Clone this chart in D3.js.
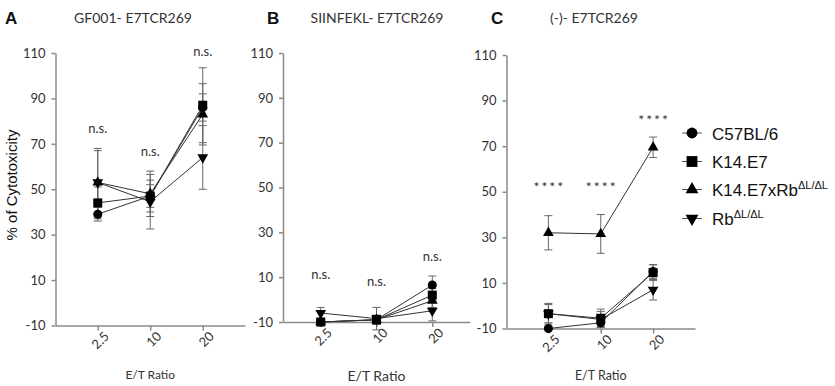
<!DOCTYPE html>
<html>
<head>
<meta charset="utf-8">
<script src="https://cdnjs.cloudflare.com/ajax/libs/d3/7.8.5/d3.min.js"></script>
<style>
  body { margin: 0; background: #fff; }
  svg { display: block; }
  .lbl { font-family: Lato, "Open Sans", sans-serif; fill: #333; }
  .arial { font-family: "Liberation Sans", Arial, sans-serif; fill: #111; }
</style>
</head>
<body>
<div id="chart"></div>
<script>
// categories and series
var ratios = ["2.5", "10", "20"];
var groups = ["C57BL/6", "K14.E7", "K14.E7xRb", "Rb"];
var shapes = ["circle", "square", "up", "down"];
var yTicks = [-10, 10, 30, 50, 70, 90, 110];

// panel A: GF001
var aMean = [[39, 47, 86], [44, 47, 87], [53, 48, 83], [53, 44.5, 64]];
var aSd   = [[3, 5, 6], [7, 7, 16.5], [15, 10, 13.5], [14, 12, 14]];
// panel B: SIINFEKL
var bMean = [[-10, -9, 6.5], [-10, -9, 2], [-10, -9, -0.5], [-6, -8.5, -5]];
var bSd   = [[1, 1.5, 4], [1, 2, 3], [1, 2, 3], [2.5, 5, 4.5]];
// panel C: (-)
var cMean = [[-10, -7.5, 15], [-3.5, -5.5, 14.5], [32, 31.5, 69.5], [-3.5, -6, 7]];
var cSd   = [[0.5, 1.5, 3], [4, 4, 3.5], [7.5, 8.5, 4.5], [4.5, 3.5, 4.5]];

// significance labels and where they sit (in % units)
var aSig = ["n.s.", "n.s.", "n.s."], aSigY = [76.5, 66.5, 110.5];
var bSig = ["n.s.", "n.s.", "n.s."], bSigY = [11, 8, 19];
var cSig = ["****", "****", "****"], cSigY = [53, 53, 82.5];

var svg = d3.select("#chart").append("svg")
    .attr("width", 835).attr("height", 386);

function symbolPath(s, big) {
  var k = big ? 1.45 : 1;
  if (s == "circle") return d3.symbol(d3.symbolCircle, 64 * k)();
  if (s == "square") return d3.symbol(d3.symbolSquare, 81 * k)();
  return d3.symbol(d3.symbolTriangle, 50 * k)();
}

function panel(cfg) {
  var x = d3.scalePoint().domain(ratios).range([cfg.x0, cfg.x1]).padding(cfg.pad);
  var y = d3.scaleLinear().domain([-10, 110]).range([cfg.yb, cfg.yt]);
  var g = svg.append("g");

  // y axis (plain hyphen for negatives, like the original)
  var ya = g.append("g").attr("transform", "translate(" + cfg.x0 + ",0)")
    .call(d3.axisLeft(y).tickValues(yTicks).tickFormat(function(d) { return String(d); })
      .tickSize(4).tickPadding(6).tickSizeOuter(0));
  // x axis
  var xa = g.append("g").attr("transform", "translate(0," + cfg.yb + ")")
    .call(d3.axisBottom(x).tickSize(5).tickSizeOuter(0));
  [ya, xa].forEach(function(a) {
    a.selectAll("path, line").attr("stroke", "#8a8a8a").attr("stroke-width", 1.5);
    a.selectAll("text").attr("class", "lbl").style("font-size", "13px").attr("fill", "#333");
  });
  xa.selectAll("text")
    .attr("text-anchor", "end")
    .attr("transform", "translate(4,4) rotate(-45)")
    .attr("dy", "0.6em").attr("y", 3).attr("x", 0);

  // connecting lines
  var line = d3.line().x(function(d, i) { return x(ratios[i]); }).y(function(d) { return y(d); });
  cfg.mean.forEach(function(m) {
    g.append("path").attr("d", line(m)).attr("fill", "none")
      .attr("stroke", "#333").attr("stroke-width", 1);
  });

  // error bars
  cfg.mean.forEach(function(m, si) {
    m.forEach(function(v, i) {
      var cx = x(ratios[i]), lo = y(v - cfg.sd[si][i]), hi = y(v + cfg.sd[si][i]);
      var e = g.append("g").attr("stroke", "#666").attr("stroke-width", 1);
      e.append("line").attr("x1", cx).attr("x2", cx).attr("y1", lo).attr("y2", hi);
      e.append("line").attr("x1", cx - 4).attr("x2", cx + 4).attr("y1", lo).attr("y2", lo);
      e.append("line").attr("x1", cx - 4).attr("x2", cx + 4).attr("y1", hi).attr("y2", hi);
    });
  });

  // markers
  cfg.mean.forEach(function(m, si) {
    g.selectAll(".m" + si).data(m).enter().append("path")
      .attr("d", symbolPath(shapes[si]))
      .attr("transform", function(d, i) {
        return "translate(" + x(ratios[i]) + "," + y(d) + ")" + (shapes[si] == "down" ? " rotate(180)" : "");
      })
      .attr("fill", "#000");
  });

  // significance
  g.selectAll(".sig").data(cfg.sig).enter().append("text")
    .attr("class", "lbl")
    .attr("x", function(d, i) { return x(ratios[i]) + (d == "****" ? 1 : 0); })
    .attr("y", function(d, i) { return y(cfg.sigY[i]) + (d == "****" ? 7 : 4); })
    .attr("text-anchor", "middle")
    .style("font-size", d3.max(cfg.sig) == "****" ? "14px" : "13px")
    .style("letter-spacing", function(d) { return d == "****" ? "2px" : "0"; })
    .attr("fill", function(d) { return d == "****" ? "#555" : "#333"; })
    .text(function(d) { return d; });

  // titles
  g.append("text").attr("class", "arial").attr("x", cfg.letterX).attr("y", 24)
    .style("font-size", "17px").style("font-weight", "bold").text(cfg.letter);
  g.append("text").attr("class", "lbl").attr("x", cfg.titleX).attr("y", 23)
    .attr("text-anchor", "middle").style("font-size", "14px").attr("fill", "#222").text(cfg.title);
  g.append("text").attr("class", "lbl").attr("x", (cfg.x0 + cfg.x1) / 2).attr("y", cfg.etY)
    .attr("text-anchor", "middle").style("font-size", cfg.etSize).attr("fill", "#222").text("E/T Ratio");
}

panel({ x0: 55.5, x1: 245, pad: 0.805, yt: 53, yb: 325.5, mean: aMean, sd: aSd,
  sig: aSig, sigY: aSigY, letter: "A", letterX: 5, title: "GF001- E7TCR269", titleX: 133,
  etY: 379, etSize: "12px" });
panel({ x0: 283, x1: 470, pad: 0.676, yt: 53, yb: 322, mean: bMean, sd: bSd,
  sig: bSig, sigY: bSigY, letter: "B", letterX: 267, title: "SIINFEKL- E7TCR269", titleX: 377,
  etY: 381, etSize: "14px" });
panel({ x0: 506.5, x1: 695, pad: 0.80, yt: 55, yb: 328.5, mean: cMean, sd: cSd,
  sig: cSig, sigY: cSigY, letter: "C", letterX: 491, title: "(-)- E7TCR269", titleX: 594,
  etY: 380, etSize: "12.5px" });

// y axis title (panel A only)
svg.append("text").attr("class", "arial")
  .attr("transform", "translate(17,185) rotate(-90)")
  .attr("text-anchor", "middle").style("font-size", "15px")
  .text("% of Cytotoxicity");

// legend
var leg = svg.append("g").attr("transform", "translate(692,0)");
var legY = [133, 161.5, 189.5, 218.5];
groups.forEach(function(name, i) {
  var r = leg.append("g").attr("transform", "translate(0," + legY[i] + ")");
  r.append("line").attr("x1", -10).attr("x2", 10).attr("stroke", "#555").attr("stroke-width", 1);
  r.append("path").attr("d", symbolPath(shapes[i], true))
    .attr("transform", shapes[i] == "down" ? "rotate(180)" : null).attr("fill", "#000");
  var t = r.append("text").attr("class", "arial").attr("x", 20).attr("y", 6.5)
    .style("font-size", "17px").text(name);
  if (i >= 2) {
    t.append("tspan").attr("dy", -7).style("font-size", "11px").text("\u0394L/\u0394L");
  }
});
</script>
</body>
</html>
